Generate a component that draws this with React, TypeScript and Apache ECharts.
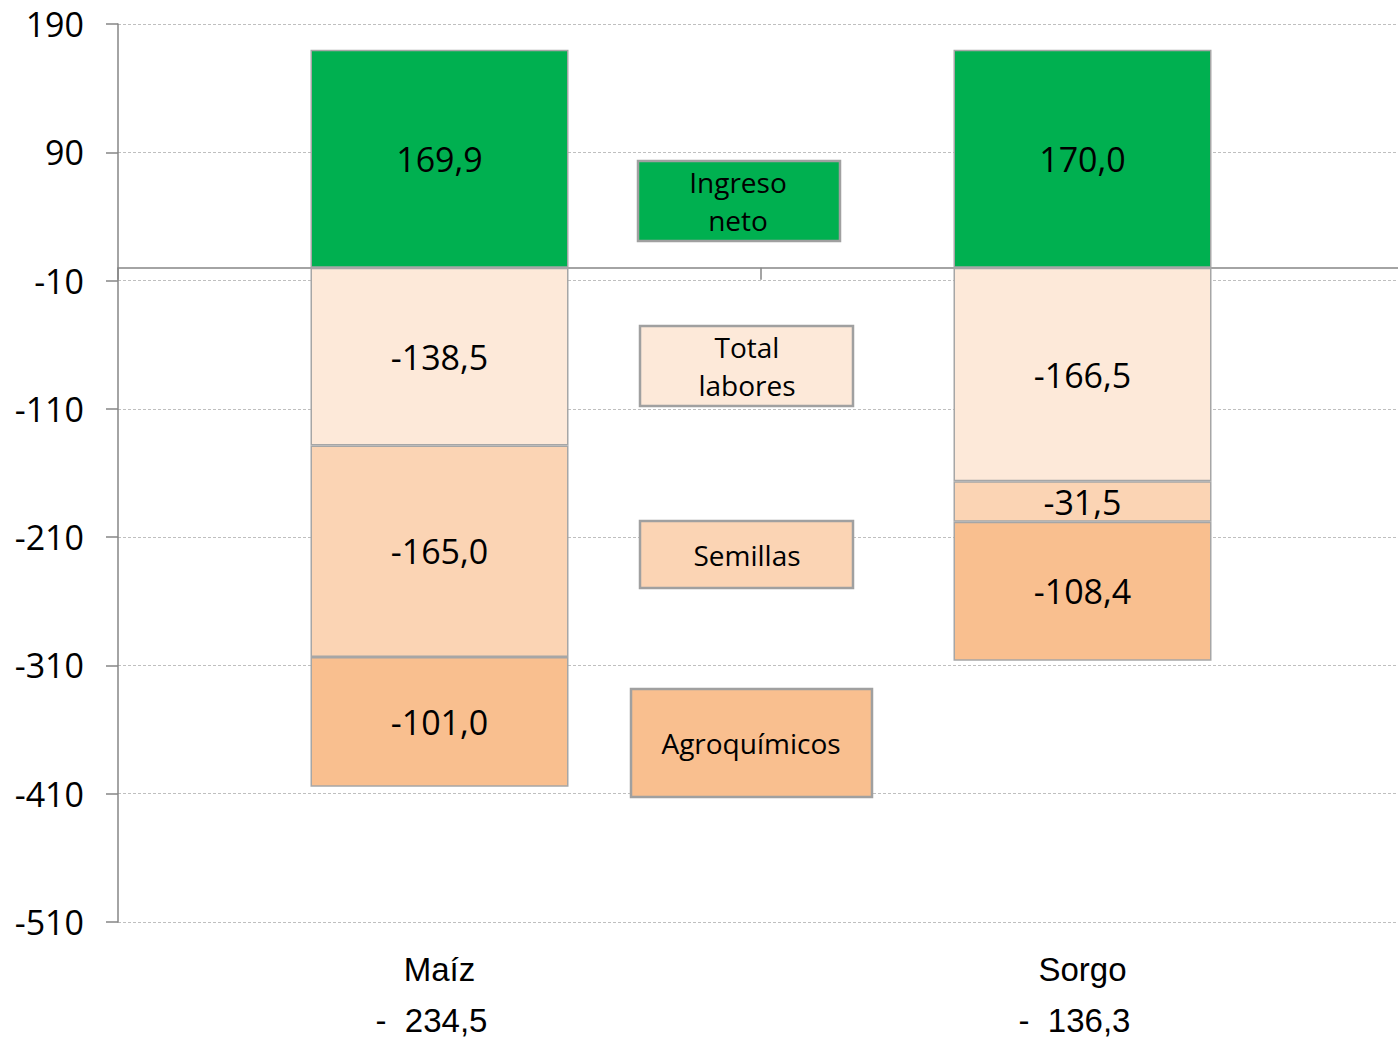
import React, { useEffect, useRef } from "react";
import * as echarts from "echarts";

const categories = ["Maíz", "Sorgo"];
const categoryTotals = [-234.5, -136.3];
const ingresoNeto = [169.9, 170.0];
const totalLabores = [-138.5, -166.5];
const semillas = [-165.0, -31.5];
const agroquimicos = [-101.0, -108.4];
const yMin = -510;
const yMax = 190;
const yInterval = 100;

const legendItems = [
  { lines: ["Ingreso", "neto"], color: "#00B050", x: 638, y: 161, w: 202, h: 80, cx: 738 },
  { lines: ["Total", "labores"], color: "#FDE9D9", x: 640, y: 326, w: 213, h: 80, cx: 747 },
  { lines: ["Semillas"], color: "#FBD4B4", x: 640, y: 521, w: 213, h: 67, cx: 747 },
  { lines: ["Agroquímicos"], color: "#F9BF8F", x: 631, y: 689, w: 241, h: 108, cx: 751 },
];

const fmt = (v: number) => v.toFixed(1).replace(".", ",");
const NUM_FONT = "'Open Sans', 'DejaVu Sans', sans-serif";
const CAT_FONT = "'Liberation Sans', Arial, sans-serif";

export default function App() {
  const ref = useRef<HTMLDivElement>(null);
  useEffect(() => {
    if (!ref.current) return;
    const chart = echarts.init(ref.current, null, { renderer: "svg" });
    const barStyle = (color: string) => ({
      color,
      borderColor: "#A6A6A6",
      borderWidth: 1.5,
    });
    const label = {
      show: true,
      position: "inside",
      formatter: (p: any) => fmt(p.value),
      fontFamily: NUM_FONT,
      fontSize: 34,
      color: "#000",
    };
    const mk = (name: string, data: number[], color: string) => ({
      name,
      type: "bar",
      stack: "total",
      data,
      barWidth: 258,
      itemStyle: barStyle(color),
      label,
    });
    const graphics: any[] = [];
    legendItems.forEach((it) => {
      graphics.push({
        type: "rect",
        shape: { x: it.x, y: it.y, width: it.w, height: it.h },
        style: { fill: it.color, stroke: "#A0A0A0", lineWidth: 2.5 },
        z: 10,
      });
      graphics.push({
        type: "text",
        x: it.cx,
        y: it.y + it.h / 2,
        style: {
          text: it.lines.join("\n"),
          fontFamily: NUM_FONT,
          fontSize: 28,
          lineHeight: 38,
          fill: "#000",
          align: "center",
          verticalAlign: "middle",
        },
        z: 11,
      });
    });
    chart.setOption({
      animation: false,
      backgroundColor: "#fff",
      grid: { left: 118, right: 0, top: 24, bottom: 117, containLabel: false },
      xAxis: [
        {
          type: "category",
          data: categories,
          position: "bottom",
          axisLine: { show: false, onZero: false },
          axisTick: { show: false },
          axisLabel: {
            margin: 22,
            formatter: (v: string, i: number) =>
              `{a|${v}}\n{b|-  ${fmt(Math.abs(categoryTotals[i]))}}`,
            rich: {
              a: { fontFamily: CAT_FONT, fontSize: 33, lineHeight: 51, color: "#000" },
              b: {
                fontFamily: CAT_FONT,
                fontSize: 33,
                lineHeight: 51,
                color: "#000",
                padding: [0, 16, 0, 0],
              },
            },
          },
        },
        {
          type: "category",
          data: categories,
          position: "top",
          axisLine: { show: true, onZero: true, lineStyle: { color: "#868686", width: 1.5 } },
          axisTick: { show: true, inside: true, length: 12, lineStyle: { color: "#868686", width: 1.5 } },
          axisLabel: { show: false },
          splitLine: { show: false },
        },
      ],
      yAxis: {
        type: "value",
        min: yMin,
        max: yMax,
        interval: yInterval,
        axisLine: { show: true, lineStyle: { color: "#868686", width: 1.5 } },
        axisTick: { show: true, length: 12, lineStyle: { color: "#868686", width: 1.5 } },
        axisLabel: {
          margin: 34,
          fontFamily: NUM_FONT,
          fontSize: 34,
          color: "#000",
          formatter: (v: number) => String(v),
        },
        splitLine: { show: true, lineStyle: { color: "#BFBFBF", width: 1.2, type: [3, 2] } },
      },
      series: [
        mk("Ingreso neto", ingresoNeto, "#00B050"),
        mk("Total labores", totalLabores, "#FDE9D9"),
        mk("Semillas", semillas, "#FBD4B4"),
        mk("Agroquímicos", agroquimicos, "#F9BF8F"),
      ],
      graphic: graphics,
    });
    return () => chart.dispose();
  }, []);
  return (
    <div
      ref={ref}
      style={{ position: "fixed", left: 0, top: 0, width: 1404, height: 1039 }}
    />
  );
}
